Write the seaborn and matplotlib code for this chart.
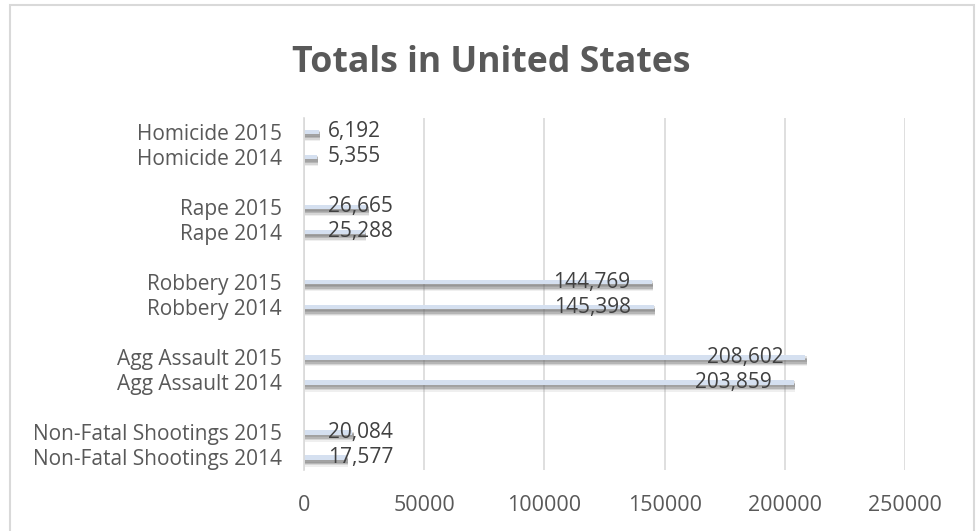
import numpy as np
import pandas as pd
import matplotlib
matplotlib.use("Agg")
import matplotlib.pyplot as plt
import matplotlib.patheffects as pe
import seaborn as sns

categories = ["Non-Fatal Shootings 2014", "Non-Fatal Shootings 2015",
              "Agg Assault 2014", "Agg Assault 2015",
              "Robbery 2014", "Robbery 2015",
              "Rape 2014", "Rape 2015",
              "Homicide 2014", "Homicide 2015"]
values = [17577, 20084, 203859, 208602, 145398, 144769, 25288, 26665, 5355, 6192]
positions = [0, 1, 3, 4, 6, 7, 9, 10, 12, 13]
xticks = [0, 50000, 100000, 150000, 200000, 250000]

sns.set_theme(style="white")
plt.rcParams['font.family'] = ['Open Sans', 'DejaVu Sans']

df = pd.DataFrame({"pos": positions, "value": values, "label": categories})

fig = plt.figure(figsize=(9.77, 5.31), dpi=100)
ax = fig.add_axes([304/977, 61/531, 601/977, 352/531])

sns.barplot(data=df, x="value", y="pos", orient="h", native_scale=True,
            color="#d5e0f0", width=0.18, ax=ax, saturation=1, linewidth=0)
effects = [pe.SimplePatchShadow(offset=(1, -d), shadow_rgbFace="#666666", alpha=a)
           for d, a in [(5, 0.1), (4, 0.18), (3, 0.28), (2, 0.32), (1, 0.2)]]
for p in ax.patches:
    p.set_path_effects(effects + [pe.Normal()])

ax.set_xlim(0, 250000)
ax.set_ylim(-0.5, 13.55)
ax.set_xticks(xticks)
ax.set_xticklabels([str(v) for v in xticks], fontsize=15.5, color="#595959")
ax.set_yticks(positions)
ax.set_yticklabels(categories, fontsize=15, color="#595959")
ax.tick_params(axis="y", length=0, pad=16)
ax.tick_params(axis="x", length=0, pad=18)
ax.set_xlabel("")
ax.set_ylabel("")
ax.grid(axis="x", color="#d9d9d9", linewidth=1.2)
ax.set_axisbelow(True)
for s in ["top", "right", "bottom"]:
    ax.spines[s].set_visible(False)
ax.spines["left"].set_color("#d9d9d9")
ax.spines["left"].set_linewidth(1.2)

fig.canvas.draw()
renderer = fig.canvas.get_renderer()
x0_px = ax.transData.transform((0, 0))[0]
for pos, val in zip(positions, values):
    txt = ax.annotate(f"{val:,}", xy=(val, pos), xytext=(-22, 0), textcoords="offset pixels",
                      ha="right", va="center", fontsize=15, color="#404040")
    bb = txt.get_window_extent(renderer)
    if bb.x0 < x0_px + 24:
        txt.remove()
        ax.annotate(f"{val:,}", xy=(0, pos), xytext=(24, 0), textcoords="offset pixels",
                    ha="left", va="center", fontsize=15, color="#404040")

fig.text(491/977, 1 - 63/531, "Totals in United States", ha="center", va="center",
         fontsize=25.7, fontweight="bold", color="#595959")

border = plt.Rectangle((10/977, -0.05), 964/977, 1 - 5/531 + 0.05, transform=fig.transFigure,
                       fill=False, edgecolor="#d9d9d9", linewidth=1.5)
fig.patches.append(border)

fig.savefig("out.png", dpi=100)
